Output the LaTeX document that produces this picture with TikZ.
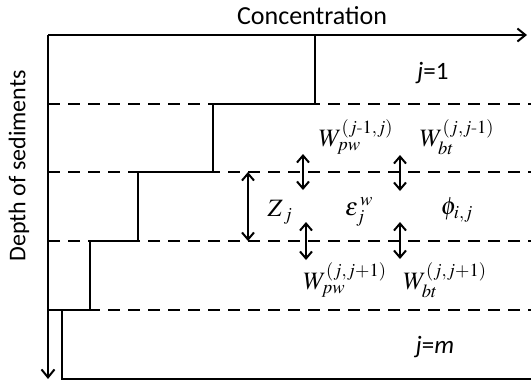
\documentclass[tikz,border=0pt]{standalone}
\usepackage{amsmath}
\usepackage{mathptmx}
\usepackage{fontspec}
\setsansfont{Carlito}
\usetikzlibrary{arrows.meta}

\tikzset{
  solidline/.style={line width=2pt},
  layerline/.style={line width=2pt, dash pattern=on 12pt off 8pt},
  fluxarrow/.style={line width=2pt, {Straight Barb[length=7pt,width=12pt]}-{Straight Barb[length=7pt,width=12pt]}},
  axislabel/.style={font=\sffamily\fontsize{26}{28}\selectfont},
  layerlabel/.style={font=\sffamily\fontsize{25}{28}\selectfont},
  mathlabel/.style={inner sep=0pt, font=\fontsize{25}{28}\selectfont}
}

\begin{document}
\begin{tikzpicture}[x=1pt,y=-1pt]
\useasboundingbox (0,0) rectangle (531,381);
% axes
\coordinate (origin) at (48,35);
\coordinate (cend) at (527,35);
\coordinate (dend) at (48,379);
\draw [solidline, -{Straight Barb[length=8pt,width=13pt]}] (origin) -- (cend);
\draw [solidline, -{Straight Barb[length=8pt,width=13pt]}] (origin) -- (dend);
\node [axislabel] (conc) at (312,16) {Concentration};
\node [axislabel, rotate=90, font=\sffamily\fontsize{24}{26}\selectfont] (depth) at (19,166) {Depth of sediments};
% layer boundaries
\draw [layerline] (48,104) -- (531,104);
\draw [layerline] (48,172) -- (531,172);
\draw [layerline] (48,241) -- (531,241);
\draw [layerline] (48,310) -- (531,310);
\draw [solidline] (48,310) -- (62,310);
% concentration profile
\draw [solidline] (315,35) -- (315,104) -- (213,104) -- (213,172) -- (138,172)
  -- (138,241) -- (90,241) -- (90,310) -- (62,310) -- (62,379) -- (531,379);
% layer names
\node [layerlabel] (top) at (433,73) {\textit{j}=1};
\node [layerlabel] (bottom) at (435,347) {\textit{j}=\textit{m}};
% exchange arrows
\coordinate (zup) at (248,172);
\coordinate (zdown) at (248,241);
\draw [fluxarrow] (zup) -- (zdown);
\coordinate (pwa) at (303,154);
\coordinate (pwb) at (303,190);
\draw [fluxarrow] (pwa) -- (pwb);
\coordinate (bta) at (400,155);
\coordinate (btb) at (400,191);
\draw [fluxarrow] (bta) -- (btb);
\coordinate (pwc) at (306,222);
\coordinate (pwd) at (306,260);
\draw [fluxarrow] (pwc) -- (pwd);
\coordinate (btc) at (400,222);
\coordinate (btd) at (400,259);
\draw [fluxarrow] (btc) -- (btd);
% fluxes and properties
\node [mathlabel] (wpwup) at (356,137) {$W_{pw}^{(j\text{-}1,j)}$};
\node [mathlabel] (wbtup) at (457,137) {$W_{bt}^{(j,j\text{-}1)}$};
\node [mathlabel] (zj) at (280,212) {$Z_{\,j}$};
\node [mathlabel] (eps) at (359,212) {$\varepsilon_j^{\,w}$};
\node [mathlabel] (phi) at (457,210) {$\phi_{i,j}$};
\node [mathlabel] (wpwdown) at (345,280) {$W_{pw}^{(j,j+1)}$};
\node [mathlabel] (wbtdown) at (445,280) {$W_{bt}^{(j,j+1)}$};
\end{tikzpicture}
\end{document}
